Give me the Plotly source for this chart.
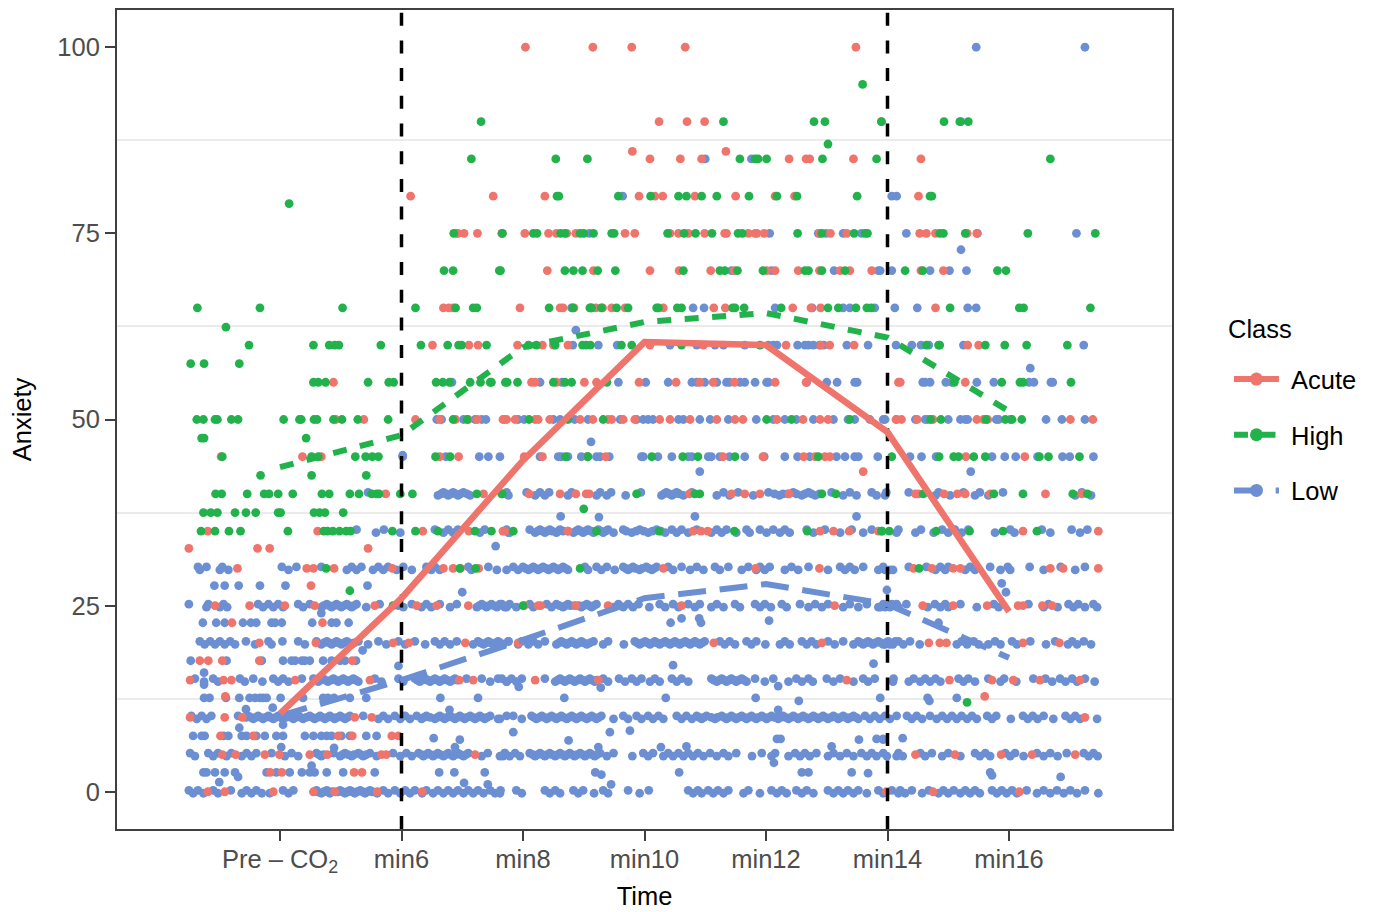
import plotly.graph_objects as go

# ---- Axis labels and summary lines ------------------------------------
time_ticks = [4, 6, 8, 10, 12, 14, 16]
time_labels = ["Pre – CO<sub>2</sub>", "min6", "min8", "min10", "min12", "min14", "min16"]
anxiety_ticks = [0, 25, 50, 75, 100]
minor_grid = [12.5, 37.5, 62.5, 87.5]
stress_times = [6, 14]

acute_mean = [10.5, 26, 44.5, 60.4, 60, 48.3, 24.2]
high_mean = [43.6, 47.9, 59.7, 63.1, 64.3, 61, 51.1]
low_mean = [10.2, 15, 20.4, 26, 27.9, 25.2, 18]

# ---- Low class: time of each dot at each rating ----------------------
low_0_up = [2.50,2.65,2.90,3.19,3.45,3.61,4.05,4.22,4.60,4.77,4.99,5.15,5.32,5.48,5.70,5.89,6.06,6.22,6.41,6.60,6.77,6.93,7.10,7.26,7.46,7.63,7.89,8.36,8.53,8.83,8.99,9.32,9.73,10.07,10.72,10.88,11.05,11.21,11.38,11.71,12.09,12.26,12.50,12.67,13.02,13.19,13.35,13.52,13.85,14.07,14.21,14.40,14.68,14.92,15.09,15.28,15.44,15.72,15.88,16.05,16.29,16.57,16.79,17.01,17.25]
low_0_dn = [2.57,2.74,2.98,3.37,3.53,3.70,3.83,4.14,4.68,4.82,5.07,5.23,5.40,5.60,5.78,5.98,6.14,6.34,6.52,6.69,6.85,7.02,7.18,7.35,7.54,7.62,7.98,8.44,8.61,8.91,9.17,9.40,9.92,10.80,10.94,11.13,11.30,11.63,11.90,12.18,12.34,12.59,12.78,13.11,13.27,13.44,13.66,13.93,14.18,14.29,14.57,14.84,15.0,15.2,15.36,15.52,15.80,15.96,16.13,16.46,16.68,16.90,17.12,17.47]
low_0_mid = [4.62,4.72,4.8,4.86,4.95,5.03,5.11,5.19,5.27,5.36,5.44,5.52]
low_2_x = [2.74,2.79,2.93,3.09,3.26,3.78,3.94,4.16,4.36,4.49,4.57,4.77,5.04,5.56,6.62,6.87,7.37,9.19,10.57,12.59,12.70,13.41,15.69]
low_off_x = [3.31,4.52,3.0,7.03,7.42,9.29,9.45,13.68,15.72,16.85,8.75,9.43,9.76,7.84,12.18,12.24,13.53,13.82,13.93,14.25,13.93,9.24,10.27,10.69,13.08,12.13,4.89,4.02,6.53,6.96,6.88]
low_off_y = [2.0,3.5,1.3,1.2,1.0,2.3,1.0,2.5,2.2,2.0,6.9,8.0,8.2,8.0,7.1,7.1,7.0,7.1,7.1,7.2,7.0,6.0,6.0,6.1,6.1,3.9,5.9,6.0,7.2,7.0,6.0]
low_5_up = [2.52,2.82,2.98,3.20,3.45,3.61,3.86,4.19,4.60,4.88,5.07,5.29,5.48,5.86,6.08,6.28,6.44,6.60,6.77,6.93,7.10,7.42,7.70,7.70,7.87,8.11,8.28,8.44,8.61,8.77,8.94,9.10,9.27,9.49,9.98,10.14,10.39,10.56,10.72,10.88,11.08,11.30,11.51,11.93,12.15,12.48,12.64,12.83,13.11,13.33,13.57,13.74,13.93,14.18,14.54,14.73,15.0,15.44,15.61,15.94,16.10,16.46,16.68,16.95,17.23,17.39]
low_5_dn = [2.60,2.90,3.12,3.37,3.53,4.08,4.30,4.68,4.99,5.18,5.37,5.59,5.98,6.17,6.36,6.52,6.69,6.85,7.02,7.32,7.67,7.62,7.78,7.95,8.20,8.36,8.53,8.69,8.85,9.02,9.18,9.38,9.80,10.06,10.31,10.47,10.64,10.80,10.97,11.19,11.38,11.77,12.09,12.37,12.56,12.72,13.02,13.22,13.44,13.66,13.82,14.15,13.99,14.25,14.62,14.90,15.2,15.52,15.69,16.02,16.24,16.57,16.80,17.31,17.46]
low_5_mid = [4.64,4.72,5.03,5.12,5.22,5.33,5.42,6.33,6.4,6.48,6.56,6.64,6.73,6.81,6.89,6.97,7.06,8.16,8.24,8.32,8.4,8.48,8.57,8.65,8.73,8.81,8.89,8.98,9.06,9.14,9.22]
low_7_x = [2.57,2.71,2.76,3.07,3.15,3.37,3.45,3.61,3.75,3.94,4.05,4.41,4.55,4.68,4.77,4.85,5.01,5.15,5.42,5.59]
low_10_up = [2.54,2.71,2.87,3.31,3.48,3.64,3.81,3.97,4.14,4.30,4.49,4.66,4.82,4.99,5.15,5.37,5.70,5.89,6.06,6.25,6.41,6.63,6.80,6.96,7.13,7.29,7.46,7.73,7.84,8.14,8.31,8.47,8.63,8.80,8.96,9.13,9.29,9.65,9.87,10.06,10.23,10.53,10.69,10.86,11.02,11.27,11.43,11.60,11.76,11.93,12.09,12.28,12.45,12.61,12.78,12.94,13.11,13.27,13.44,13.63,13.79,13.96,14.15,14.32,14.48,14.70,14.90,15.06,15.22,15.39,15.64,15.79,16.23,16.39,16.57,16.93,17.09]
low_10_dn = [2.63,2.79,3.56,3.72,3.89,4.05,4.22,4.38,4.57,4.74,4.90,5.07,5.62,5.78,5.98,6.14,6.33,6.55,6.71,6.88,7.04,7.21,7.37,7.59,7.62,7.98,8.22,8.39,8.55,8.72,8.88,9.05,9.21,9.49,9.73,9.95,10.14,10.31,10.61,10.78,10.94,11.16,11.35,11.51,11.68,11.84,12.01,12.20,12.37,12.53,12.70,12.86,13.02,13.19,13.35,13.52,13.71,13.87,14.04,14.40,14.57,14.81,14.98,15.14,15.31,15.47,15.72,16.03,16.31,16.47,16.73,17.01,17.17,17.45]
low_10_mid = [3.44,3.52,3.60,3.68,3.76,3.84,3.93,4.01,4.10,4.18,4.26,4.34,4.43,4.53,4.62,4.70,4.78,4.86,4.94,5.03,5.11,6.37,6.47,6.59,6.67,6.75,6.84,6.92,7.0,7.08,7.17,7.25,7.33,7.41,8.18,8.27,8.35,8.43,8.51,8.59,8.67,8.76,8.84,8.92,9.0,9.09,9.17,9.25,10.90,10.98,11.1,11.2,11.31,11.39,11.47,11.55,11.64,11.72,11.8,11.88,11.97,12.05,12.14,12.24,12.32,12.41,12.49,12.57,12.65,12.74,12.82,12.9,12.98,13.07,13.15,13.23,13.31,13.39,13.48]
low_12_x = [2.75,2.84,3.11,3.33,3.50,3.59,3.67,3.72,3.78,4.01,4.38,4.71,4.79,4.89,5.15,5.42,7.26,6.64,8.68,10.35,11.83,13.88,14.66,15.14]
low_off2_x = [3.44,3.88,6.79,4.05,3.33,12.2,12.54,14.69,5.95,10.47,13.77,7.93,9.28,12.2,2.75,2.75]
low_off2_y = [11.1,11.3,11.0,9.0,8.6,11.0,12.2,12.2,16.9,17.0,17.2,14.1,14.0,14.2,16.0,14.4]
low_15_up = [2.60,2.90,3.34,3.56,3.89,4.05,4.36,4.55,4.71,4.88,5.04,5.21,5.56,5.95,6.22,6.39,6.55,6.71,6.88,7.07,7.32,7.59,7.65,7.81,7.98,8.36,8.61,8.77,8.94,9.10,9.32,9.58,9.79,9.95,10.17,10.45,10.61,11.10,11.27,11.43,11.60,11.82,12.12,12.50,12.70,13.0,13.22,13.60,13.79,14.1,14.43,14.62,14.79,15.17,15.33,15.66,15.92,16.40,16.60,16.84,17.04,17.25]
low_15_dn = [2.75,2.98,3.42,3.71,3.97,4.14,4.63,4.79,4.96,5.12,5.29,5.67,6.03,6.30,6.47,6.63,6.80,7.46,7.73,7.73,7.89,8.53,8.69,8.85,9.02,9.18,9.40,9.68,9.87,10.09,10.25,10.53,10.72,11.19,11.35,11.51,11.68,11.98,12.37,12.59,12.77,13.11,13.44,13.68,14.09,14.35,14.54,14.70,14.87,15.25,15.44,15.86,16.12,16.71,16.93,17.12,17.41]
low_15_mid = [4.67,4.75,4.84,4.92,5.0,5.08,5.16,5.25,6.26,6.34,6.43,6.51,6.59,6.67,6.75,6.84,6.92,8.57,8.65,8.73,8.81,8.9,8.98,9.06,9.14,9.22,11.14,11.23,11.31,11.39,11.47,11.55,11.64]
low_17_x = [2.53,3.12,3.70,4.05,4.19,4.25,4.36,4.41,4.49,4.71,4.85,4.99,5.07,5.25]
low_20_up = [2.68,2.85,3.01,3.18,3.44,3.81,4.04,4.30,4.60,4.77,4.93,5.10,5.29,5.62,5.95,6.22,6.55,6.71,6.91,7.26,7.43,7.59,7.76,7.76,7.98,8.17,8.36,8.63,8.80,8.96,9.16,9.40,9.84,10.01,10.17,10.34,10.50,10.67,10.83,10.99,11.24,11.40,11.68,11.84,12.31,12.59,12.75,13.02,13.27,13.52,13.68,13.85,14.01,14.18,14.13,14.37,15.22,15.42,15.77,16.05,16.35,16.76,17.04,17.23]
low_20_dn = [2.76,2.93,3.09,3.26,3.59,3.86,4.41,4.68,4.85,5.01,5.18,5.45,5.75,6.06,6.39,6.63,6.80,7.18,7.35,7.51,7.67,7.67,7.92,8.09,8.25,8.55,8.72,8.88,9.05,9.32,9.66,9.92,10.09,10.25,10.42,10.58,10.75,10.91,11.32,11.49,11.76,11.99,12.23,12.39,12.67,12.83,13.13,13.44,13.60,13.76,13.93,14.09,13.96,14.04,14.26,14.53,15.14,15.31,15.50,15.66,15.86,16.13,16.61,16.97,17.12,17.35]
low_20_mid = [4.72,4.81,4.89,4.97,5.05,5.14,5.22,9.88,9.96,10.05,10.13,10.21,10.29,10.38,10.46,10.54,10.62,10.71,10.79,10.87,10.95,8.59,8.68,8.76,8.84,8.92,9.0,9.1,7.3,7.39,7.47,7.55,7.63,13.56,13.64,13.72,13.8,13.89,13.97]
low_22_x = [2.73,2.95,3.09,3.39,3.52,3.61,3.86,3.92,4.03,4.53,4.85,4.93,5.13,10.43,10.93,14.84]
low_off3_x = [5.36,4.68,10.61,10.9,12.05,5.95,7.55,15.88,15.95,13.99,7.0,8.62,9.25,10.83,13.49,9.12,6.02,15.37,10.91,16.35,15.21,8.87]
low_off3_y = [19,24,23.3,23.3,23,25,33,28,26.8,27.1,26.8,37,36.9,37,37,47,45.2,43,43,56.9,72.8,62]
low_25_up = [2.50,2.82,3.07,3.64,3.81,3.97,4.30,4.49,4.77,4.93,5.10,5.26,5.64,6.17,6.41,6.63,6.91,7.32,7.48,7.65,7.62,7.78,8.11,8.39,8.55,8.74,9.05,9.21,9.57,9.73,9.90,10.25,10.47,10.72,10.91,11.19,11.49,11.82,11.98,12.26,12.56,12.81,13.02,13.38,13.66,13.93,14.15,14.07,14.31,14.78,14.95,15.2,15.75,16.32,16.65,16.98,17.14,17.39]
low_25_dn = [2.79,3.01,3.13,3.72,3.89,4.05,4.38,4.68,4.85,5.01,5.18,5.42,6.03,6.33,6.49,6.80,7.24,7.40,7.57,7.73,7.70,7.89,8.17,8.47,8.66,8.96,9.13,9.49,9.65,9.81,10.08,10.34,10.56,10.83,11.10,11.30,11.57,11.90,12.08,12.34,12.70,12.92,13.27,13.52,13.85,14.04,13.88,13.96,14.18,14.66,14.87,15.0,15.47,15.83,16.57,16.80,17.06,17.25,17.45]
low_25_mid = [4.72,4.81,4.89,4.97,5.05,5.14,5.22,7.28,7.36,7.44,7.52,7.6,7.68,8.60,8.70,8.78,8.85,8.92,9.0,9.09,9.17]
low_27_x = [2.92,3.09,3.32,3.67,4.09,5.44]
low_30_up = [2.65,2.79,3.05,4.03,4.27,4.68,5.18,5.34,5.62,5.78,6.03,6.41,6.55,7.10,7.43,7.84,8.0,8.17,8.33,8.50,8.66,9.02,9.21,9.38,9.65,9.81,10.03,10.20,10.39,10.61,10.86,11.16,11.38,11.71,11.90,12.06,12.42,12.70,13.22,13.38,13.60,13.93,14.35,14.64,14.87,15.0,15.36,15.69,15.98,16.34,16.85,17.25]
low_30_dn = [2.68,3.01,3.15,4.14,5.10,5.26,5.53,5.70,5.92,6.17,6.49,6.63,7.15,7.57,7.73,7.92,8.09,8.25,8.42,8.58,8.74,9.07,9.29,9.51,9.73,9.92,10.12,10.47,10.75,10.97,11.24,11.60,11.84,11.98,12.31,12.53,13.02,13.30,13.46,13.85,14.04,13.96,14.09,14.79,14.95,15.28,15.44,15.86,16.02,16.57,17.09]
low_30_mid = [8.04,8.13,8.21,8.29,8.38,8.46,8.54,8.62,8.7,9.69,9.77,9.85,9.96,10.07,10.16]
low_35_up = [5.26,5.71,6.55,6.77,6.93,7.37,7.73,8.11,8.28,8.44,8.61,8.91,9.07,9.24,9.40,9.65,9.92,10.20,10.45,10.61,10.86,11.19,11.35,11.68,11.90,12.12,12.31,12.67,12.97,13.41,13.74,14.18,14.55,14.90,15.11,15.33,16.02,16.54,17.03,17.29]
low_35_dn = [5.58,5.98,6.69,6.85,7.29,7.76,7.78,8.20,8.36,8.55,8.83,8.99,9.16,9.32,9.49,9.79,10.06,10.34,10.53,10.72,11.10,11.27,11.51,11.73,12.01,12.23,12.39,12.78,13.22,13.60,14.15,14.46,14.76,15.0,15.22,15.77,16.09,16.68,17.17]
low_35_mid = [8.24,8.32,8.4,8.48,8.58,8.66,8.74,8.87,8.95,9.03,9.12,9.2,9.28,9.36,9.7,9.86,9.99,10.13,10.27]
low_40_up = [5.45,6.69,6.85,7.02,7.73,8.06,8.28,8.43,8.80,9.27,9.45,9.94,10.36,10.53,10.78,11.30,11.54,12.04,12.45,12.70,13.08,13.38,13.74,13.98,14.35,14.84,15.25,15.52,15.90,17.20]
low_40_dn = [6.60,6.77,6.93,7.13,7.76,8.20,8.36,8.74,9.21,9.38,9.69,10.28,10.45,10.64,11.19,11.40,11.79,12.22,12.59,12.81,13.27,13.49,13.82,13.96,14.79,15.03,15.44,15.66,17.09,17.35]
low_40_mid = [6.65,6.73,6.81,6.89,6.97,7.08,10.32,10.41,10.49,10.57,12.14,12.28,12.36,12.5,12.64,12.75,12.88]
low_45_x = [6.02,6.73,7.28,7.43,7.62,8.28,8.58,8.63,8.74,8.96,9.06,9.21,9.27,9.42,9.95,9.98,10.22,10.45,10.72,10.78,11.05,11.10,11.24,11.40,11.65,11.97,12.31,12.52,12.72,13.16,13.30,13.46,13.52,13.84,14.37,14.56,14.80,15.72,15.93,16.11,16.47,16.88,17.0,17.39]
low_50_x = [6.58,6.66,7.02,7.21,7.32,7.39,7.92,8.02,8.50,8.61,8.85,9.07,9.60,9.87,9.98,10.06,10.14,10.56,10.64,10.91,11.08,11.38,11.84,12.12,12.31,12.50,12.78,13.11,13.35,13.46,13.71,13.96,13.93,14.46,14.62,14.66,15.0,15.2,15.28,15.32,15.79,15.83,16.02,16.61,16.87,17.25]
low_55_x = [6.83,8.28,8.64,9.57,10.02,10.39,10.78,10.86,10.99,11.19,11.35,11.40,11.57,11.65,11.82,12.01,12.04,12.67,13.0,13.17,13.46,13.50,14.58,14.62,14.70,14.96,15.06,15.47,15.75,16.33,16.41,16.69,16.72]
low_60_x = [8.82,9.24,9.55,10.42,10.86,11.16,11.30,11.65,12.04,12.12,12.18,12.52,12.64,12.70,12.78,12.88,12.95,13.33,13.68,14.14,14.40,14.55,14.68,15.25,17.23]
low_65_x = [8.80,9.12,10.80,10.98,12.15,12.76,13.27,13.38,13.79,14.12,14.49,15.32,15.46]
low_70_x = [11.43,12.09,13.12,13.85,14.07,13.88,14.70,15.02,15.30]
low_75_x = [9.09,12.06,12.86,12.99,13.27,13.57,14.31,15.48,17.11]
low_80_x = [9.64,14.07,14.15]
low_85_x = [11.0,11.76]
low_90_x = [15.21]
low_100_x = [15.46,17.25]

# ---- Acute class ------------------------------------------------------
acute_0 = [2.81,3.09,3.89,4.55,4.90,5.60,6.34,13.98,14.75,16.17]
acute_2 = [3.84,4.03,5.22,5.35]
acute_5 = [3.05,3.27,3.75,3.99,4.49,4.78,5.67,5.75,7.21,14.46,15.11,15.87,16.38,17.09]
acute_7 = [3.02,3.56,4.96,5.19,5.84,5.95]
acute_10 = [2.52,3.09,3.38,5.23,5.51,17.25]
acute_12 = [3.10,15.6]
acute_15 = [2.52,3.07,3.20,4.25,5.48,6.95,7.18,8.20,9.24,13.33,15.02,15.72,16.07,16.51,17.17]
acute_17 = [2.68,2.82,3.05,3.66,5.19]
acute_20 = [3.66,4.59,5.86,6.12,7.05,7.92,11.14,12.92,14.68,14.86,14.97,16.23,16.83]
acute_22 = [3.21,4.70]
acute_25 = [2.93,3.50,4.08,4.57,5.56,6.25,6.58,7.10,8.02,8.25,8.29,8.87,9.40,10.61,13.13,14.58,15.08,15.64,16.15,16.23,16.55,16.71]
acute_27 = [4.51]
acute_30 = [3.30,4.44,4.55,4.89,5.85,6.69,6.85,6.97,7.27,10.31,11.83,12.88,14.43,14.73,15.08,15.2,16.68,16.89,17.47]
acute_32 = [2.5,3.63,3.83,5.45]
acute_35 = [2.81,4.62,6.35,7.11,7.70,7.67,8.74,10.80,10.93,11.04,12.89,13.11,13.37,13.85,16.23,17.47]
acute_40 = [5.74,7.35,8.10,8.61,8.87,9.04,9.09,10.74,11.43,11.65,11.90,12.38,14.46,14.51,14.93,15.15,15.28,15.69,16.60,17.20]
acute_43 = [13.6]
acute_45 = [3.03,4.37,4.68,6.63,6.94,8.02,8.32,9.06,9.36,11.29,11.95,12.62,12.81,12.97,13.05,15.29,16.26]
acute_50 = [4.92,5.38,6.23,6.63,6.89,7.10,7.25,7.67,7.73,7.69,7.87,8.20,8.25,8.44,8.94,9.15,9.40,9.46,9.65,9.84,10.25,10.42,10.75,11.19,11.49,11.62,12.18,12.61,12.89,13.02,14.15,14.14,14.23,14.49,14.75,15.47,15.58,15.65,17.01,17.38]
acute_55 = [4.88,8.14,8.20,8.55,9.01,9.21,9.91,10.52,10.91,11.13,11.48,12.15,12.66,14.18,14.21,15.28]
acute_60 = [6.51,7.11,7.26,7.91,8.32,8.5,8.74,10.09,10.97,12.33,12.9,13.05,13.45,15.32,15.50]
acute_65 = [6.69,6.78,6.85,7.95,8.61,8.66,8.84,9.20,9.31,9.46,9.68,10.31,11.14,11.33,12.44,12.74,12.90,14.79]
acute_70 = [8.4,9.16,10.09,10.57,11.09,11.48,12.01,12.15,12.53,12.88,13.22,13.38,13.74,14.55,14.92]
acute_75 = [6.91,6.93,7.03,7.25,7.65,7.66,8.03,8.42,8.55,8.72,8.87,9.68,9.84,10.42,10.56,10.72,10.99,11.32,11.35,11.71,11.82,11.85,11.97,12.88,13.06,13.33,14.53,14.64,14.79,15.31,15.47]
acute_80 = [6.15,7.51,8.36,9.91,10.17,10.30,10.83,11.50,12.15,12.47,14.51]
acute_85 = [10.09,10.59,10.94,12.38,12.66,12.72,13.44,14.55]
acute_86 = [9.8,11.34]
acute_90 = [10.24,10.70,10.99,13.90]
acute_100 = [8.04,9.15,9.79,10.67,13.48]

# ---- High class -------------------------------------------------------
high_12 = [15.31]
high_25 = [5.86,8.0]
high_27 = [5.15]
high_30 = [4.76,6.96,7.22,8.94,14.52]
high_35 = [2.70,2.93,3.16,3.35,4.13,4.72,4.78,4.87,4.98,5.09,5.16,5.85,6.23,6.60,7.21,7.48,7.84,9.21,10.24,11.48,12.68,13.90,14.03,13.91,14.80,15.35,15.90,16.46]
high_37 = [2.74,2.86,2.97,3.26,3.44,3.60,3.97,4.01,4.56,4.65,4.74,5.04]
high_38 = [9.0]
high_40 = [2.94,3.04,3.46,3.74,3.82,3.97,4.21,4.69,4.81,5.15,5.30,5.51,5.59,5.63,5.98,6.18,7.24,7.65,7.66,9.87,10.83,10.91,12.92,13.15,14.59,15.75,16.23,17.05,17.29]
high_42 = [3.68,4.52,5.42]
high_45 = [3.05,4.52,4.63,5.24,5.41,5.52,5.62,6.56,6.80,8.70,9.07,10.12,10.63,10.88,11.49,12.86,14.07,14.85,15.09,15.17,15.42,15.61,16.50,16.65,17.16]
high_47 = [2.71,2.75,4.43]
high_50 = [2.63,2.74,2.93,2.97,3.20,3.31,4.06,4.32,4.35,4.56,4.61,4.88,5.02,5.28,5.78,6.85,7.08,8.10,8.74,9.32,12.01,12.42,13.38,14.71,14.88,15.62,15.94,16.05,16.21]
high_55 = [4.55,4.63,4.75,5.45,5.79,5.87,6.57,6.68,6.79,7.13,7.30,7.48,7.46,7.71,7.74,7.91,8.50,8.69,8.80,9.38,15.10,15.88,16.18,16.23,17.02]
high_57 = [2.53,2.75,3.33]
high_60 = [3.49,4.55,4.81,4.90,4.97,5.66,6.32,6.76,6.94,6.99,7.40,8.09,8.22,8.53,8.98,9.04,9.11,9.62,9.79,10.61,11.90,14.64,14.86,14.84,15.61,15.93,16.29,16.96]
high_62 = [3.11]
high_65 = [2.64,3.67,5.03,6.23,6.89,7.18,7.24,8.43,8.82,9.10,9.13,9.29,9.54,9.73,10.2,10.23,10.54,10.61,11.45,11.49,11.64,12.25,13.02,13.19,13.48,13.66,13.73,15.03,16.17,16.24,17.34]
high_70 = [6.70,6.85,7.61,7.63,8.69,8.83,8.98,9.23,9.52,10.64,11.24,11.32,11.53,11.95,12.64,12.70,12.92,13.30,14.29,14.58,15.81,15.95]
high_75 = [6.86,7.66,8.17,8.23,8.62,8.69,8.94,9.0,9.16,9.46,9.5,10.38,10.65,10.84,11.11,11.54,11.61,12.52,12.92,13.45,13.63,13.67,14.86,14.92,15.28,16.31,17.42]
high_79 = [4.15]
high_80 = [8.56,8.59,9.57,10.10,10.56,10.69,10.94,11.19,11.72,12.18,12.51,13.5,14.70,14.73]
high_85 = [7.15,8.54,9.06,11.57,11.82,11.87,12.01,12.93,13.82,16.68]
high_87 = [13.02]
high_90 = [7.31,11.30,12.79,12.97,13.90,14.93,15.19,15.33]
high_95 = [13.59]

# ---- Assemble the three point series ----------------------------------
low_rows = [(0.2,low_0_up),(-0.2,low_0_dn),(0,low_0_mid),(2.6,low_2_x),(5.2,low_5_up),(4.8,low_5_dn),(5,low_5_mid),(7.5,low_7_x),
            (10.2,low_10_up),(9.8,low_10_dn),(10,low_10_mid),(12.6,low_12_x),(15.2,low_15_up),(14.8,low_15_dn),(15,low_15_mid),(17.6,low_17_x),
            (20.2,low_20_up),(19.8,low_20_dn),(20,low_20_mid),(22.7,low_22_x),(25.2,low_25_up),(24.8,low_25_dn),(25,low_25_mid),(27.7,low_27_x),
            (30.2,low_30_up),(29.8,low_30_dn),(30,low_30_mid),(35.2,low_35_up),(34.8,low_35_dn),(35,low_35_mid),
            (40.2,low_40_up),(39.8,low_40_dn),(40,low_40_mid),
            (45,low_45_x),(50,low_50_x),
            (55,low_55_x),(60,low_60_x),(65,low_65_x),(70,low_70_x),(75,low_75_x),(80,low_80_x),(85,low_85_x),
            (90,low_90_x),(100,low_100_x)]
acute_rows = [(0,acute_0),(2.6,acute_2),(5,acute_5),(7.5,acute_7),(10,acute_10),(12.8,acute_12),(15,acute_15),(17.6,acute_17),
              (20,acute_20),(22.7,acute_22),(25,acute_25),(27.7,acute_27),(30,acute_30),(32.7,acute_32),(35,acute_35),
              (40,acute_40),(43,acute_43),(45,acute_45),(50,acute_50),(55,acute_55),(60,acute_60),
              (65,acute_65),(70,acute_70),(75,acute_75),(80,acute_80),(85,acute_85),(86,acute_86),(90,acute_90),(100,acute_100)]
high_rows = [(12,high_12),(25,high_25),(27,high_27),(30,high_30),(35,high_35),(37.5,high_37),(38,high_38),(40,high_40),
             (42.5,high_42),(45,high_45),(47.5,high_47),(50,high_50),(55,high_55),(57.5,high_57),(60,high_60),(62.4,high_62),
             (65,high_65),(70,high_70),(75,high_75),(79,high_79),(80,high_80),(85,high_85),(87,high_87),(90,high_90),(95,high_95)]

def flatten(rows):
    xs, ys = [], []
    for level, values in rows:
        xs += values
        ys += [level] * len(values)
    return xs, ys

low_x, low_y = flatten(low_rows)
low_x += low_off_x + low_off2_x + low_off3_x
low_y += low_off_y + low_off2_y + low_off3_y
acute_x, acute_y = flatten(acute_rows)
high_x, high_y = flatten(high_rows)

RED, GREEN, BLUE = "#EF746B", "#22B24C", "#6B8FD2"
FONT = "Liberation Sans, Arial, sans-serif"
DASH = {"Acute": "solid", "High": "14px,13.5px", "Low": "28px,13.7px"}
COLOR = {"Acute": RED, "High": GREEN, "Low": BLUE}
WIDTH = {"Acute": 6.5, "High": 6, "Low": 6}

fig = go.Figure()
for px_, py_, c in [(low_x, low_y, BLUE), (acute_x, acute_y, RED), (high_x, high_y, GREEN)]:
    fig.add_trace(go.Scatter(x=px_, y=py_, mode="markers", showlegend=False, hoverinfo="skip",
                             marker=dict(color=c, size=8.8, line=dict(width=0))))
for t in stress_times:
    fig.add_trace(go.Scatter(x=[t, t], y=[-5, 105], mode="lines", showlegend=False, hoverinfo="skip",
                             line=dict(color="black", width=3.5, dash="13px,14.7px")))
for name, vals in [("High", high_mean), ("Low", low_mean), ("Acute", acute_mean)]:
    fig.add_trace(go.Scatter(x=time_ticks, y=vals, mode="lines", showlegend=False, hoverinfo="skip",
                             line=dict(color=COLOR[name], width=WIDTH[name], dash=DASH[name])))
for rank, name in enumerate(["Acute", "High", "Low"]):
    fig.add_trace(go.Scatter(x=[None], y=[None], mode="lines+markers", name="\u00a0" + name, legendgroup=name,
                             legendrank=rank + 1,
                             line=dict(color=COLOR[name], width=6, dash=DASH[name]),
                             marker=dict(color=COLOR[name], size=13)))

fig.update_layout(
    width=1366, height=904, autosize=False,
    margin=dict(l=109, r=202, t=2, b=83),
    paper_bgcolor="white", plot_bgcolor="white",
    font=dict(family=FONT, size=25.5, color="black"),
    legend=dict(x=1.054, xanchor="left", y=0.5775, yanchor="top", itemwidth=45, tracegroupgap=19.5,
                traceorder="grouped", font=dict(size=25.5), bgcolor="rgba(0,0,0,0)", itemsizing="trace"),
    annotations=[dict(text="Class", xref="paper", yref="paper", x=1.0516, y=0.6105, xanchor="left", yanchor="middle",
                      showarrow=False, font=dict(size=25.5, color="black"))],
)
fig.update_xaxes(range=[1.317, 18.683], tickvals=time_ticks, ticktext=time_labels, automargin=False,
                 showgrid=False, zeroline=False, showline=True, mirror=True,
                 linecolor="#404040", linewidth=2, ticks="outside", ticklen=10, tickwidth=2, tickcolor="#404040",
                 tickfont=dict(size=25.5, color="#4D4D4D"), ticklabelstandoff=-4,
                 title=dict(text="Time", font=dict(size=25.5, color="black"), standoff=11))
fig.update_yaxes(range=[-5, 105], tickvals=anxiety_ticks, automargin=False,
                 showgrid=False, zeroline=False, showline=True, mirror=True,
                 linecolor="#404040", linewidth=2, ticks="outside", ticklen=10, tickwidth=2, tickcolor="#404040",
                 tickfont=dict(size=25.5, color="#4D4D4D"),
                 minor=dict(tickvals=minor_grid, showgrid=True, gridcolor="#EBEBEB", gridwidth=1.5, ticks=""),
                 title=dict(text="Anxiety", font=dict(size=25.5, color="black"), standoff=23))
fig.write_html("out.html")
